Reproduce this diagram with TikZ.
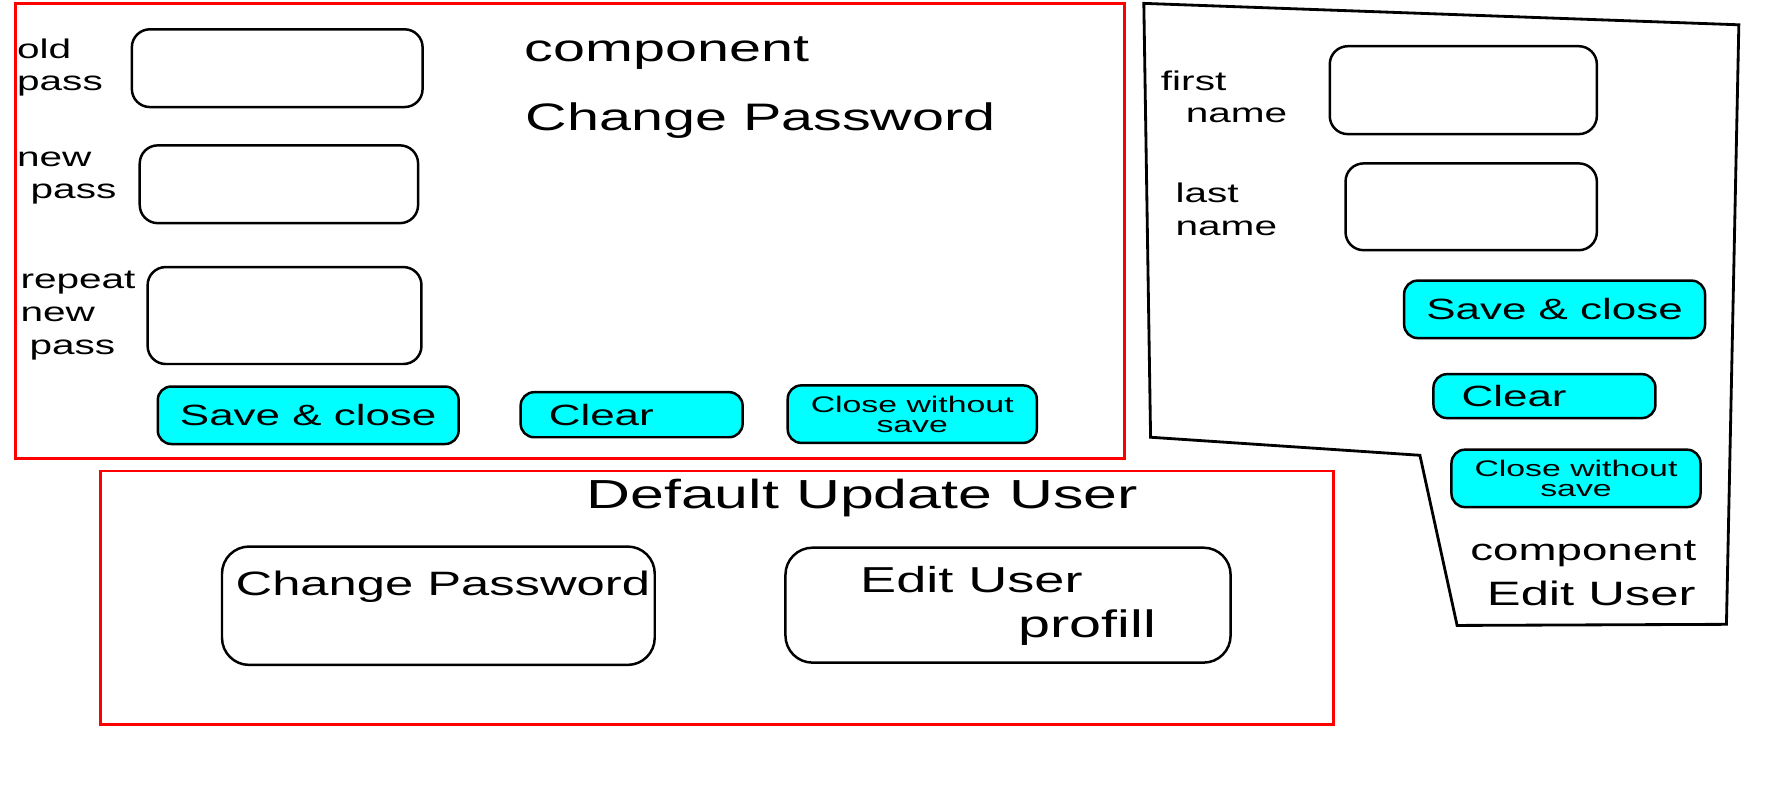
\documentclass[tikz,border=0pt]{standalone}
\usepackage{fontspec}
\newfontfamily\handfont[FakeStretch=1.5]{Liberation Sans}
\definecolor{aqua}{RGB}{0,255,255}
\begin{document}
\begin{tikzpicture}[x=1pt,y=-1pt,
	field/.style={draw,line width=2.2pt,rounded corners=16pt},
	button/.style={draw,fill=aqua,line width=2.2pt,rounded corners=12pt,font=\handfont\fontsize{26}{30}\selectfont},
	label/.style={font=\handfont\fontsize{24}{29}\selectfont,align=left,inner sep=0pt},
	title/.style={font=\handfont\fontsize{#1}{#1}\selectfont,inner sep=0pt},
	frame/.style={draw=red,line width=2.5pt}]
	\useasboundingbox (0,0) rectangle (1568,715);
	% component Change Password
	\draw[frame] (14,3) rectangle (998,407);
	\node[title=34] (cmpA) at (592,47) {component};
	\node[title=34] (chpwA) at (675,107) {Change Password};
	\node[field,minimum width=258pt,minimum height=69pt] (oldbox) at (246,60.5) {};
	\node[field,minimum width=247pt,minimum height=69pt] (newbox) at (247.5,163.5) {};
	\node[field,minimum width=243pt,minimum height=86pt] (repbox) at (252.5,280) {};
	\node[label,anchor=west] (oldlbl) at (15,60) {old\\pass};
	\node[label,anchor=west] (newlbl) at (15,158) {new\\\hspace{12pt}pass};
	\node[label,anchor=west] (replbl) at (18,280) {repeat\\new\\\hspace{8pt}pass};
	\node[button,minimum width=267pt,minimum height=51pt] (saveA) at (273.5,368.5) {Save \& close};
	\node[button,text width=147pt,inner xsep=25pt,minimum height=40pt,align=left] (clearA) at (560.5,368) {Clear};
	\node[button,minimum width=221pt,minimum height=51pt,align=center,font=\handfont\fontsize{20}{18}\selectfont] (closeA) at (809.5,367.5) {Close without\\save};
	% component Edit User
	\draw[line width=2.5pt] (1015,3)--(1543,22)--(1532,554)--(1293,555)--(1260,404)--(1021,388)--cycle;
	\node[field,minimum width=237pt,minimum height=78pt] (firstbox) at (1298.5,80) {};
	\node[field,minimum width=223pt,minimum height=77pt] (lastbox) at (1305.5,183.5) {};
	\node[label,anchor=west] (firstlbl) at (1030,86) {first\\\hspace{22pt}name};
	\node[label,anchor=west] (lastlbl) at (1043,186) {last\\name};
	\node[button,minimum width=267pt,minimum height=51pt] (saveB) at (1379.5,274.5) {Save \& close};
	\node[button,text width=147pt,inner xsep=25pt,minimum height=39pt,align=left] (clearB) at (1370.5,351.5) {Clear};
	\node[button,minimum width=221pt,minimum height=51pt,align=center,font=\handfont\fontsize{20}{18}\selectfont] (closeB) at (1398.5,424.5) {Close without\\save};
	\node[title=27] (cmpB) at (1405,491) {component};
	\node[title=30] (euB) at (1412,527) {Edit User};
	% Default Update User
	\draw[frame] (89,418) rectangle (1183,643);
	\node[title=36] (dfltU) at (765,442) {Default Update User};
	\node[field,minimum width=384pt,minimum height=105pt,rounded corners=24pt] (cpbox) at (389,537.5) {};
	\node[title=30] (cptxt) at (393,521) {Change Password};
	\node[field,minimum width=395pt,minimum height=102pt,rounded corners=24pt] (eubox) at (894.5,537) {};
	\node[title=32] (eutxt) at (862,514) {Edit User};
	\node[title=34] (proftxt) at (965,557) {profill};
\end{tikzpicture}
\end{document}
